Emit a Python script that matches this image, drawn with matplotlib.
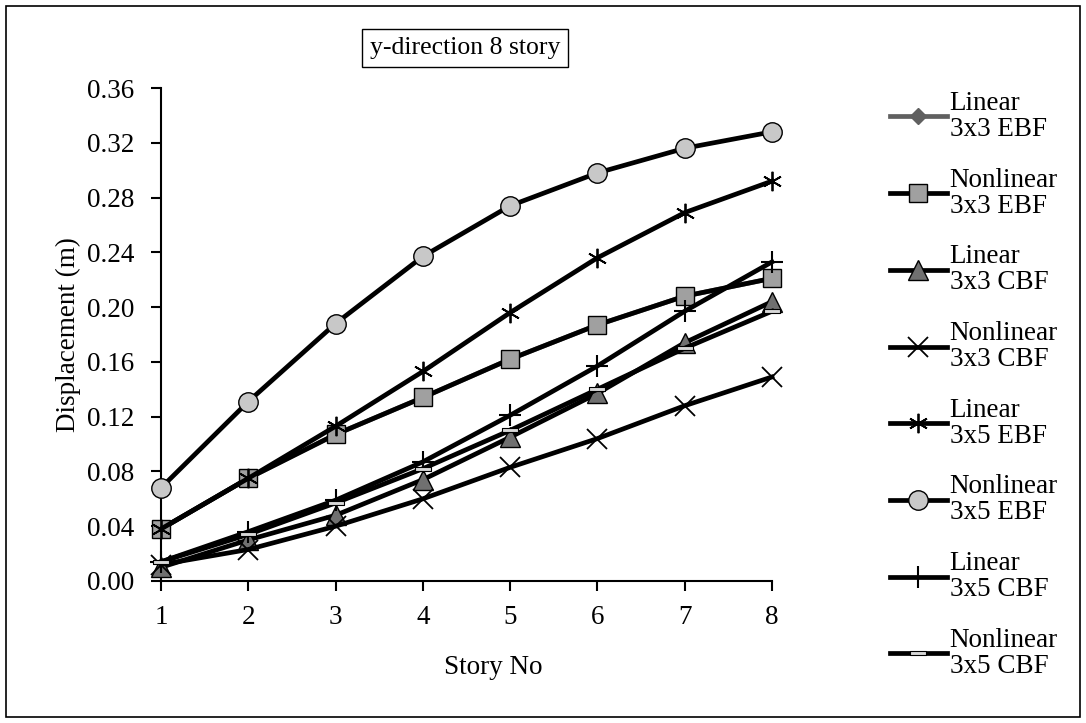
import matplotlib
matplotlib.use("Agg")
import matplotlib.pyplot as plt
from matplotlib.patches import Rectangle

plt.rcParams['font.family'] = ['Liberation Serif', 'DejaVu Serif']

stories = [1, 2, 3, 4, 5, 6, 7, 8]

lin_3x3_ebf = [0.038, 0.075, 0.107, 0.134, 0.162, 0.187, 0.208, 0.221]
nonlin_3x3_ebf = [0.038, 0.075, 0.107, 0.134, 0.162, 0.187, 0.208, 0.221]
lin_3x3_cbf = [0.010, 0.030, 0.048, 0.074, 0.105, 0.137, 0.174, 0.204]
nonlin_3x3_cbf = [0.012, 0.023, 0.040, 0.060, 0.083, 0.104, 0.128, 0.149]
lin_3x5_ebf = [0.038, 0.075, 0.113, 0.153, 0.196, 0.236, 0.269, 0.292]
nonlin_3x5_ebf = [0.068, 0.131, 0.188, 0.237, 0.274, 0.298, 0.316, 0.328]
lin_3x5_cbf = [0.014, 0.036, 0.059, 0.087, 0.121, 0.157, 0.197, 0.233]
nonlin_3x5_cbf = [0.014, 0.034, 0.057, 0.082, 0.110, 0.140, 0.170, 0.197]

labels = ['Linear\n3x3 EBF', 'Nonlinear\n3x3 EBF', 'Linear\n3x3 CBF', 'Nonlinear\n3x3 CBF',
          'Linear\n3x5 EBF', 'Nonlinear\n3x5 EBF', 'Linear\n3x5 CBF', 'Nonlinear\n3x5 CBF']
y_ticks = [0.00, 0.04, 0.08, 0.12, 0.16, 0.20, 0.24, 0.28, 0.32, 0.36]

# short flat bar used as the "dash" marker
dash = [(-1, -0.28), (1, -0.28), (1, 0.28), (-1, 0.28), (-1, -0.28)]

styles = [
    dict(color='#606060', marker='D', ms=8, mfc='#606060', mec='#606060'),
    dict(color='black', marker='s', ms=13, mfc='#A0A0A0', mec='black'),
    dict(color='black', marker='^', ms=14, mfc='#707070', mec='black'),
    dict(color='black', marker='x', ms=14, mew=1.3, mec='black'),
    dict(color='black', marker=(6, 2, 0), ms=14, mew=1.3, mec='black'),
    dict(color='black', marker='o', ms=14, mfc='#C8C8C8', mec='black'),
    dict(color='black', marker='+', ms=16, mew=1.5, mec='black'),
    dict(color='black', marker=dash, ms=11, mfc='#D8D8D8', mec='black', mew=0.8),
]
series = [lin_3x3_ebf, nonlin_3x3_ebf, lin_3x3_cbf, nonlin_3x3_cbf,
          lin_3x5_ebf, nonlin_3x5_ebf, lin_3x5_cbf, nonlin_3x5_cbf]

fs = 19.5

fig = plt.figure(figsize=(10.86, 7.23), dpi=100)
ax = fig.add_axes([161 / 1086, 1 - 581 / 723, 611 / 1086, 493 / 723])

handles = []
for i, (vals, st) in enumerate(zip(series, styles)):
    h, = ax.plot(stories, vals, lw=3.4, zorder=3 + i, clip_on=False, **st)
    handles.append(h)

ax.set_xlim(1, 8)
ax.set_ylim(0, 0.36)
ax.set_xticks(stories)
ax.set_yticks(y_ticks)
ax.set_yticklabels([f'{v:.2f}' for v in y_ticks])
ax.spines['top'].set_visible(False)
ax.spines['right'].set_visible(False)
ax.spines['left'].set_linewidth(1.5)
ax.spines['bottom'].set_linewidth(1.5)
ax.tick_params(direction='out', length=7, width=1.5, labelsize=fs, pad=12)
ax.tick_params(axis='x', pad=10)

fig.text(68 / 1086, 1 - 335 / 723, 'Displacement (m)', fontsize=fs, rotation=90,
         ha='center', va='center')
fig.text(493 / 1086, 1 - 668 / 723, 'Story No', fontsize=fs, ha='center', va='center')

fig.text(465 / 1086, 1 - 48 / 723, 'y-direction 8 story', fontsize=18.5, ha='center', va='center',
         bbox=dict(boxstyle='square,pad=0.3', fc='white', ec='black', lw=1))

leg = fig.legend(handles, labels, loc='upper left', bbox_to_anchor=(890 / 1086, 1 - 91 / 723),
                 frameon=False, fontsize=fs, handlelength=2.1, handletextpad=0.1,
                 labelspacing=0.95, borderaxespad=0, borderpad=0)
for t in leg.get_texts():
    t.set_linespacing(1.05)

fig.patches.append(Rectangle((6 / 1086, 6 / 723), 1074 / 1086, 711 / 723, transform=fig.transFigure,
                             fill=False, ec='black', lw=1.2))

fig.savefig('out.png', dpi=100)
